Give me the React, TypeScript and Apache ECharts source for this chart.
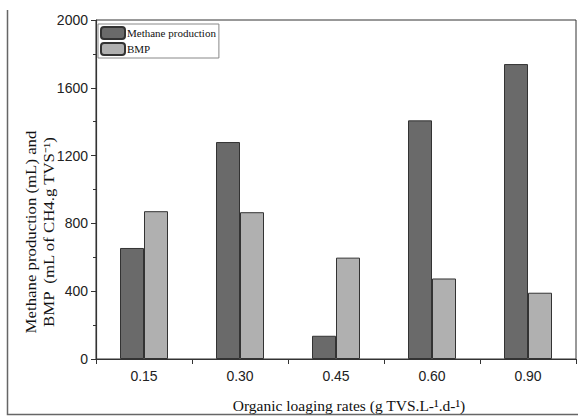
import React, { useEffect, useRef } from "react";
import * as echarts from "echarts";

const categories = ["0.15", "0.30", "0.45", "0.60", "0.90"];
const methaneProduction = [655, 1280, 137, 1408, 1740];
const bmp = [872, 866, 598, 475, 391];
const seriesNames = ["Methane production", "BMP"];
const yTicks = { min: 0, max: 2000, interval: 400 };
const yTitleLine1 = "Methane production (mL) and";
const yTitleLine2 = "BMP  (mL of CH4.g TVS⁻¹)";
const xTitle = "Organic loaging rates (g TVS.L-¹.d-¹)";

export default function App() {
  const ref = useRef<HTMLDivElement>(null);
  useEffect(() => {
    if (!ref.current) return;
    const chart = echarts.init(ref.current, null, { renderer: "svg" });
    const serif = "'Liberation Serif', 'Times New Roman', serif";
    const sans = "'Liberation Sans', Arial, sans-serif";
    chart.setOption({
      animation: false,
      backgroundColor: "#fff",
      grid: {
        left: 96,
        right: 2,
        top: 20,
        bottom: 57,
        show: true,
        borderColor: "#333",
        borderWidth: 1,
      },
      legend: {
        data: seriesNames,
        orient: "vertical",
        left: 98,
        top: 24,
        itemWidth: 24,
        itemHeight: 12,
        itemGap: 2,
        padding: [2, 3, 2, 2],
        borderColor: "#888",
        borderWidth: 1,
        textStyle: { fontFamily: serif, fontSize: 11, color: "#111", padding: [0, 0, 0, -3] },
      },
      xAxis: {
        type: "category",
        data: categories,
        axisLine: { lineStyle: { color: "#333", width: 1.2 } },
        axisTick: { show: true, alignWithLabel: false, length: 5, inside: false, lineStyle: { color: "#333" } },
        axisLabel: { fontFamily: sans, fontSize: 14, color: "#222", margin: 10 },
        name: xTitle,
        nameLocation: "middle",
        nameGap: 38,
        nameTextStyle: { fontFamily: serif, fontSize: 15.5, color: "#111", padding: [0, 0, 0, 26] },
      },
      yAxis: {
        type: "value",
        min: yTicks.min,
        max: yTicks.max,
        interval: yTicks.interval,
        axisLine: { show: true, lineStyle: { color: "#333", width: 1.2 } },
        axisTick: { show: true, length: 5, lineStyle: { color: "#333" } },
        minorTick: { show: true, splitNumber: 2, length: 3, lineStyle: { color: "#333" } },
        splitLine: { show: false },
        axisLabel: {
          fontFamily: sans,
          fontSize: 14,
          color: "#222",
          margin: 8,
          formatter: (v: number) => String(v),
        },
      },
      graphic: [
        {
          type: "text",
          x: 22,
          y: 232,
          rotation: Math.PI / 2,
          style: {
            text: yTitleLine1 + "\n" + yTitleLine2,
            font: "14px " + serif,
            fill: "#111",
            align: "center",
            verticalAlign: "top",
            lineHeight: 18,
          },
          scaleX: 1.2,
        },
        {
          type: "polyline",
          shape: { points: [[7.5, 10], [7.5, 414.5], [578, 414.5]] },
          style: { stroke: "#666", lineWidth: 1.5, fill: null },
        },
      ],
      series: [
        {
          name: seriesNames[0],
          type: "bar",
          data: methaneProduction,
          barWidth: 24,
          barGap: "0%",
          itemStyle: { color: "#6a6a6a", borderColor: "#333", borderWidth: 1 },
        },
        {
          name: seriesNames[1],
          type: "bar",
          data: bmp,
          barWidth: 24,
          barGap: "0%",
          itemStyle: { color: "#b0b0b0", borderColor: "#333", borderWidth: 1 },
        },
      ],
    });
    return () => chart.dispose();
  }, []);
  return <div ref={ref} style={{ width: 578, height: 418, position: "absolute", left: 0, top: 0 }} />;
}
